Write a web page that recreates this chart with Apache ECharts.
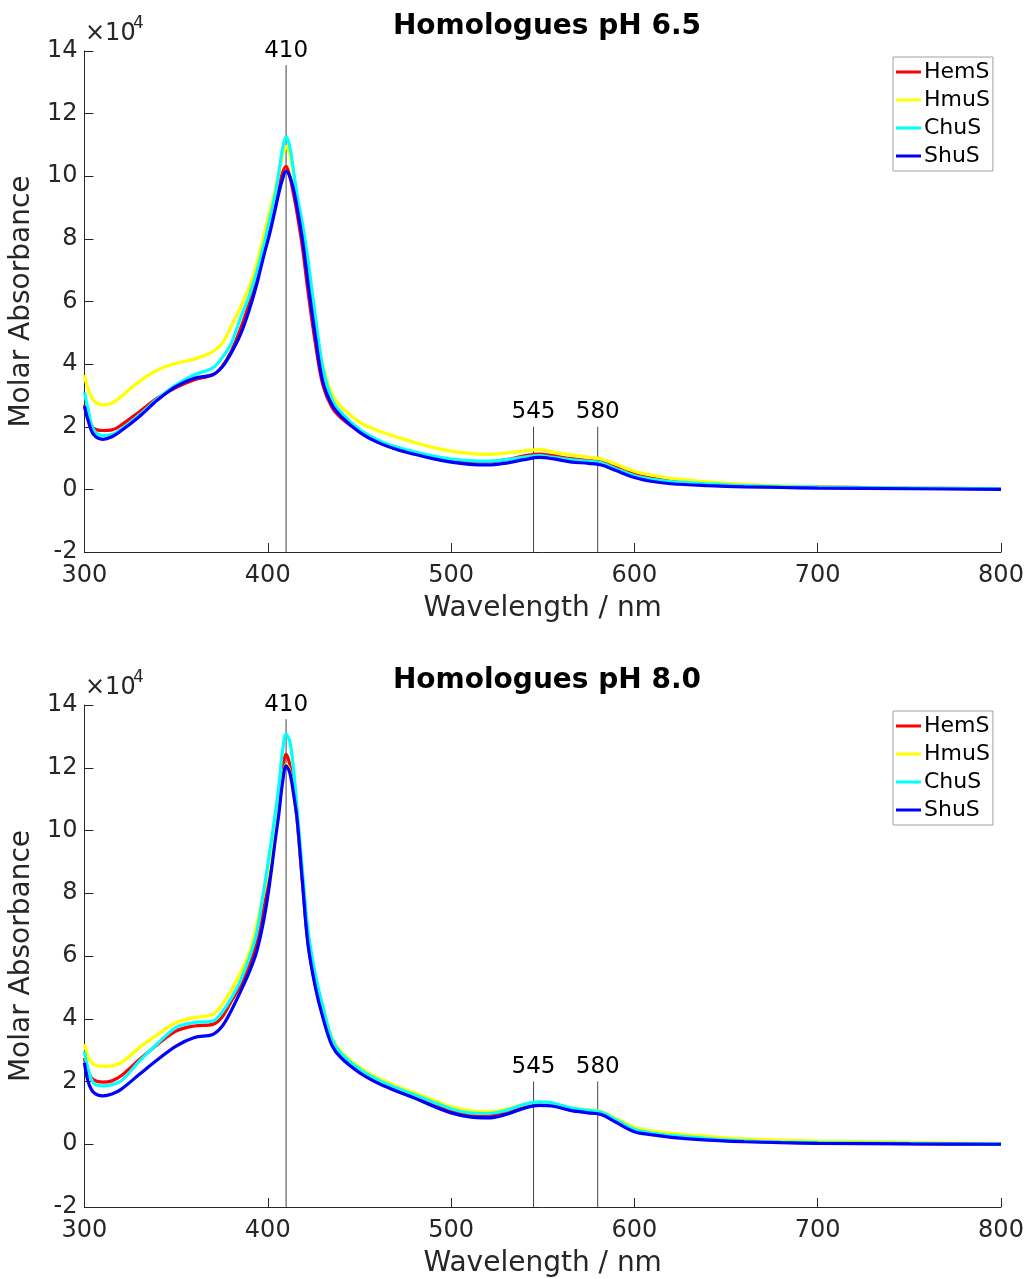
<!DOCTYPE html>
<html>
<head>
<meta charset="utf-8">
<script src="https://cdn.jsdelivr.net/npm/echarts@6/dist/echarts.min.js"></script>
<style>
  html, body { margin: 0; padding: 0; background: #ffffff; }
  #chart { width: 1030px; height: 1279px; }
</style>
</head>
<body>
<div id="chart"></div>
<script>
// Wavelength grid (nm) shared by every spectrum
const wavelength = [300, 302, 305, 310, 315, 320, 330, 340, 350, 360, 370, 375, 380, 385, 390, 394, 398, 401, 404, 406,
  408, 410, 412, 414, 416, 419, 422, 426, 430, 435, 440, 450, 460, 470, 480, 490, 500, 510, 520, 530,
  540, 548, 555, 565, 575, 582, 590, 600, 610, 620, 640, 660, 680, 700, 750, 800];

// Molar absorbance, in units of 10^4 M^-1 cm^-1 — pH 6.5
const hemS_pH65 = [2.7, 2.3, 1.95, 1.88, 1.9, 2.05, 2.48, 2.92, 3.25, 3.5, 3.66, 3.92, 4.4, 5.1, 5.95, 6.72, 7.6, 8.3, 9.1, 9.6,
  10.1, 10.32, 10.0, 9.45, 8.82, 7.7, 6.3, 4.65, 3.35, 2.62, 2.28, 1.85, 1.52, 1.3, 1.15, 1.02, 0.93, 0.88, 0.88, 0.95,
  1.07, 1.13, 1.08, 0.98, 0.92, 0.87, 0.7, 0.48, 0.35, 0.28, 0.2, 0.14, 0.1, 0.08, 0.04, 0.02];
const hmuS_pH65 = [3.65, 3.2, 2.85, 2.7, 2.75, 2.97, 3.45, 3.82, 4.03, 4.16, 4.4, 4.65, 5.2, 5.8, 6.48, 7.2, 8.15, 8.85, 9.55, 10.1,
  10.65, 10.95, 10.7, 10.1, 9.35, 8.35, 7.2, 5.45, 3.95, 3.05, 2.65, 2.15, 1.88, 1.68, 1.5, 1.34, 1.22, 1.15, 1.12, 1.16,
  1.23, 1.27, 1.2, 1.1, 1.03, 0.97, 0.8, 0.58, 0.45, 0.35, 0.24, 0.16, 0.11, 0.08, 0.04, 0.02];
const chuS_pH65 = [3.1, 2.55, 1.9, 1.72, 1.75, 1.92, 2.38, 2.9, 3.34, 3.66, 3.88, 4.2, 4.65, 5.45, 6.2, 6.95, 7.85, 8.61, 9.4, 10.1,
  10.85, 11.27, 10.95, 10.2, 9.4, 8.45, 7.3, 5.5, 3.9, 2.88, 2.45, 1.92, 1.58, 1.36, 1.2, 1.07, 0.97, 0.92, 0.9, 0.95,
  1.03, 1.08, 1.03, 0.95, 0.9, 0.85, 0.66, 0.44, 0.32, 0.25, 0.18, 0.12, 0.09, 0.07, 0.04, 0.02];
const shuS_pH65 = [2.65, 2.2, 1.75, 1.6, 1.68, 1.87, 2.33, 2.86, 3.29, 3.55, 3.66, 3.9, 4.35, 4.93, 5.75, 6.55, 7.5, 8.15, 8.92, 9.45,
  9.9, 10.16, 10.0, 9.6, 9.0, 7.95, 6.58, 4.88, 3.45, 2.7, 2.33, 1.83, 1.5, 1.28, 1.12, 0.98, 0.87, 0.8, 0.78, 0.84,
  0.95, 1.02, 0.98, 0.88, 0.83, 0.78, 0.6, 0.38, 0.25, 0.18, 0.12, 0.08, 0.06, 0.04, 0.02, 0.0];

// Molar absorbance, in units of 10^4 M^-1 cm^-1 — pH 8.0
const hemS_pH80 = [2.75, 2.3, 2.05, 1.98, 2.02, 2.18, 2.7, 3.19, 3.61, 3.77, 3.82, 4.05, 4.55, 5.05, 5.7, 6.4, 7.6, 8.7, 10.2, 11.0,
  11.95, 12.43, 12.1, 11.3, 10.35, 8.3, 6.4, 5.05, 4.12, 3.22, 2.8, 2.32, 1.98, 1.73, 1.51, 1.28, 1.06, 0.93, 0.9, 1.0,
  1.18, 1.26, 1.24, 1.09, 1.01, 0.96, 0.72, 0.44, 0.33, 0.26, 0.16, 0.1, 0.07, 0.05, 0.02, 0.0];
const hmuS_pH80 = [3.2, 2.8, 2.55, 2.48, 2.5, 2.6, 3.08, 3.5, 3.88, 4.04, 4.14, 4.45, 4.9, 5.45, 6.11, 7.0, 8.05, 9.0, 10.1, 10.9,
  11.7, 12.1, 11.9, 11.2, 10.4, 8.45, 6.6, 5.3, 4.4, 3.4, 2.95, 2.45, 2.12, 1.86, 1.64, 1.42, 1.2, 1.07, 1.04, 1.12,
  1.27, 1.33, 1.3, 1.16, 1.1, 1.04, 0.82, 0.54, 0.42, 0.35, 0.25, 0.17, 0.13, 0.1, 0.06, 0.03];
const chuS_pH80 = [2.95, 2.4, 1.95, 1.86, 1.9, 2.02, 2.65, 3.22, 3.72, 3.88, 3.93, 4.2, 4.65, 5.2, 5.95, 6.75, 8.15, 9.3, 10.5, 11.4,
  12.5, 13.07, 12.85, 12.0, 10.7, 8.65, 6.8, 5.4, 4.4, 3.35, 2.9, 2.4, 2.06, 1.8, 1.58, 1.35, 1.13, 1.0, 0.98, 1.08,
  1.27, 1.35, 1.32, 1.16, 1.08, 1.02, 0.78, 0.48, 0.36, 0.28, 0.18, 0.11, 0.07, 0.05, 0.03, 0.01];
const shuS_pH80 = [2.6, 2.0, 1.65, 1.54, 1.6, 1.75, 2.23, 2.7, 3.13, 3.4, 3.5, 3.75, 4.25, 4.85, 5.5, 6.15, 7.2, 8.3, 9.65, 10.5,
  11.5, 12.06, 11.85, 11.2, 10.36, 8.3, 6.35, 5.0, 4.05, 3.15, 2.75, 2.28, 1.95, 1.7, 1.47, 1.22, 1.0, 0.87, 0.84, 0.95,
  1.15, 1.24, 1.22, 1.08, 1.0, 0.95, 0.7, 0.4, 0.3, 0.22, 0.13, 0.08, 0.05, 0.03, 0.01, 0.0];

const seriesNames = ['HemS', 'HmuS', 'ChuS', 'ShuS'];
const seriesColors = ['#ff0000', '#ffff00', '#00ffff', '#0000ff'];
const panelTitles = ['Homologues pH 6.5', 'Homologues pH 8.0'];
const panelData = [
  [hemS_pH65, hmuS_pH65, chuS_pH65, shuS_pH65],
  [hemS_pH80, hmuS_pH80, chuS_pH80, shuS_pH80]
];

// Reference bands (nm) and the absorbance at which each guide line stops
const bandWavelengths = [410, 545, 580];
const bandLineTops = [13.55, 2.0, 2.0];

// Axis ranges and ticks
const xMin = 300, xMax = 800, xStep = 100;
const yMin = -2, yMax = 14, yStep = 2;
const yExponentBase = '\u00d710';
const yExponent = '4';

const FONT = 'DejaVu Sans';
const AXIS_COLOR = '#262626';

const panelTop = [51, 705];
const panelLeft = 83;
const panelWidth = 918;
const panelHeight = [501, 502];

const grids = [], xAxes = [], yAxes = [], series = [], titles = [], legends = [], graphics = [];

panelTop.forEach((top, p) => {
  grids.push({ left: panelLeft, top: top, width: panelWidth, height: panelHeight[p] });

  xAxes.push({
    gridIndex: p, type: 'value', min: xMin, max: xMax, interval: xStep,
    name: 'Wavelength / nm', nameLocation: 'middle', nameGap: 43,
    nameTextStyle: { fontFamily: FONT, fontSize: 28, color: AXIS_COLOR },
    axisLine: { show: true, onZero: false, lineStyle: { color: AXIS_COLOR, width: 1 } },
    axisTick: { show: true, inside: true, length: 9, lineStyle: { color: AXIS_COLOR } },
    axisLabel: { fontFamily: FONT, fontSize: 24, color: AXIS_COLOR, margin: 12 },
    splitLine: { show: false }
  });

  yAxes.push({
    gridIndex: p, type: 'value', min: yMin, max: yMax, interval: yStep,
    name: 'Molar Absorbance', nameLocation: 'middle', nameGap: 45, nameRotate: 90,
    nameTextStyle: { fontFamily: FONT, fontSize: 28, color: AXIS_COLOR },
    axisLine: { show: true, onZero: false, lineStyle: { color: AXIS_COLOR, width: 1 } },
    axisTick: { show: true, inside: true, length: 9, lineStyle: { color: AXIS_COLOR } },
    axisLabel: { fontFamily: FONT, fontSize: 24, color: AXIS_COLOR, margin: 7 },
    splitLine: { show: false }
  });

  titles.push({
    text: panelTitles[p], left: 547, top: top - 38, textAlign: 'center', padding: 0,
    textStyle: { fontFamily: FONT, fontSize: 28, fontWeight: 'bold', color: '#000000' }
  });

  // Band guide lines with their wavelength labels
  bandWavelengths.forEach((w, b) => {
    series.push({
      type: 'line', xAxisIndex: p, yAxisIndex: p, silent: true, z: 1,
      symbol: 'circle', symbolSize: 0, showSymbol: true,
      lineStyle: { color: '#444444', width: 1 },
      data: [
        [w, yMin],
        { value: [w, bandLineTops[b]],
          label: { show: true, position: 'top', distance: 3, formatter: String(w),
                   fontFamily: FONT, fontSize: 23, color: '#000000' } }
      ]
    });
  });

  // Spectra
  panelData[p].forEach((vals, s) => {
    series.push({
      name: seriesNames[s], type: 'line', xAxisIndex: p, yAxisIndex: p, z: 3,
      showSymbol: false, symbol: 'none', smooth: 0.35,
      color: seriesColors[s],
      lineStyle: { color: seriesColors[s], width: 3.2 },
      data: wavelength.map((w, i) => [w, vals[i]])
    });
  });

  legends.push({
    data: seriesNames, orient: 'vertical', left: 893, top: top + 6,
    icon: 'rect', itemWidth: 25, itemHeight: 3, itemGap: 0,
    padding: [1, 3, 1, 3],
    backgroundColor: '#ffffff', borderColor: '#a0a0a0', borderWidth: 1,
    textStyle: { fontFamily: FONT, fontSize: 22, color: '#000000', lineHeight: 28, padding: [0, 0, 0, -2] },
    selectedMode: false
  });

  // Axis multiplier above the y axis
  graphics.push({
    type: 'text', left: 85, top: top - 29,
    style: { text: yExponentBase, fontFamily: FONT, fontSize: 24, fill: AXIS_COLOR }
  });
  graphics.push({
    type: 'text', left: 133, top: top - 36,
    style: { text: yExponent, fontFamily: FONT, fontSize: 17, fill: AXIS_COLOR }
  });
});

const chart = echarts.init(document.getElementById('chart'), null, { renderer: 'canvas' });
chart.setOption({
  backgroundColor: '#ffffff',
  animation: false,
  title: titles,
  legend: legends,
  grid: grids,
  xAxis: xAxes,
  yAxis: yAxes,
  series: series,
  graphic: graphics
});
</script>
</body>
</html>
